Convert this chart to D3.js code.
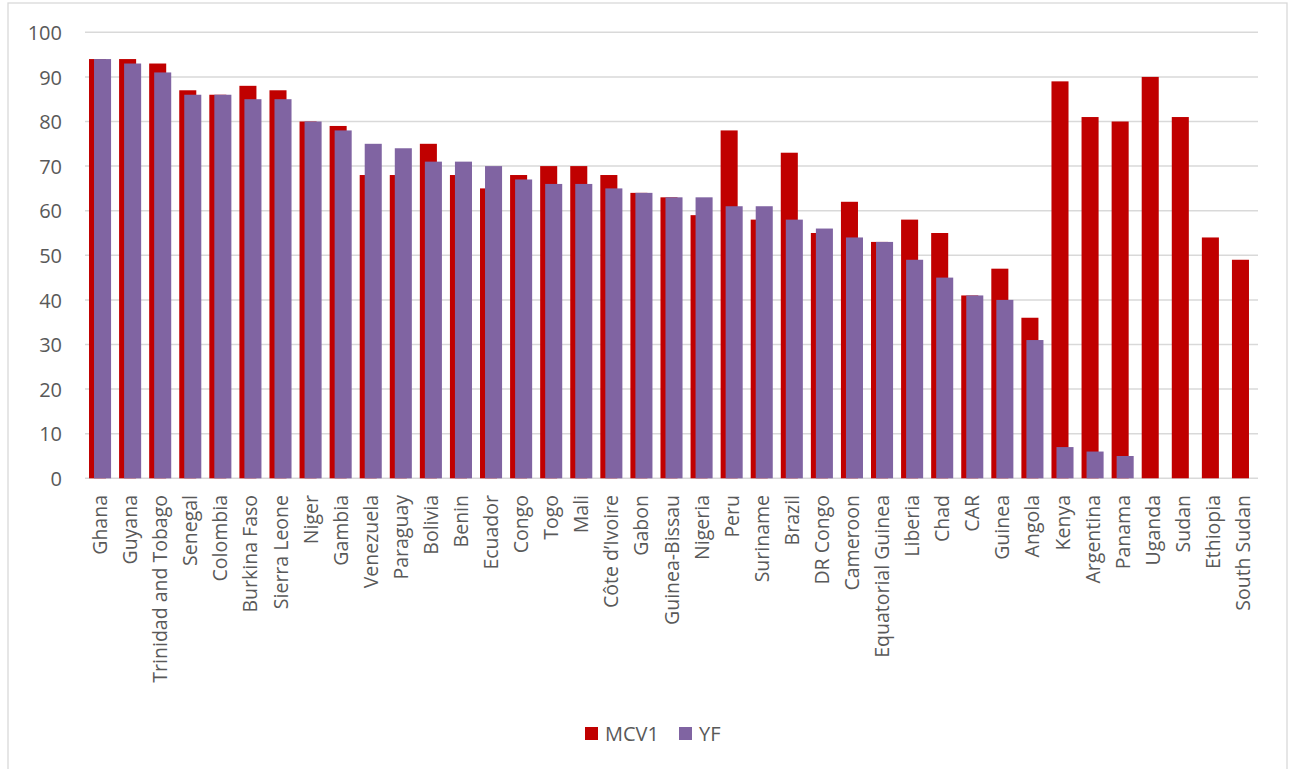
<!DOCTYPE html>
<html>
<head>
<meta charset="utf-8">
<script src="https://cdn.jsdelivr.net/npm/d3@7"></script>
<style>
  html, body { margin: 0; padding: 0; background: #fff; }
  svg { display: block; font-family: "Open Sans", "Noto Sans", sans-serif; }
</style>
</head>
<body>
<svg id="chart" width="1296" height="769"></svg>
<script>
const categories = ["Ghana","Guyana","Trinidad and Tobago","Senegal","Colombia","Burkina Faso","Sierra Leone","Niger","Gambia","Venezuela","Paraguay","Bolivia","Benin","Ecuador","Congo","Togo","Mali","Côte d’Ivoire","Gabon","Guinea-Bissau","Nigeria","Peru","Suriname","Brazil","DR Congo","Cameroon","Equatorial Guinea","Liberia","Chad","CAR","Guinea","Angola","Kenya","Argentina","Panama","Uganda","Sudan","Ethiopia","South Sudan"];
const mcv1 = [94,94,93,87,86,88,87,80,79,68,68,75,68,65,68,70,70,68,64,63,59,78,58,73,55,62,53,58,55,41,47,36,89,81,80,90,81,54,49];
const yf   = [94,93,91,86,86,85,85,80,78,75,74,71,71,70,67,66,66,65,64,63,63,61,61,58,56,54,53,49,45,41,40,31,7,6,5,null,null,null,null];
const yTicks = [0,10,20,30,40,50,60,70,80,90,100];
const seriesNames = ["MCV1","YF"];
const seriesColors = ["#C00000","#8064A2"];

const svg = d3.select("#chart");

// outer frame
svg.append("rect").attr("x",8).attr("y",3).attr("width",1279).attr("height",775)
  .attr("fill","none").attr("stroke","#d9d9d9").attr("stroke-width",1.3);

const x = d3.scaleBand().domain(categories).range([85,1258]).padding(0);
const y = d3.scaleLinear().domain([0,100]).range([478.3,32.3]);
const bw = x.bandwidth();

// gridlines
svg.append("g").selectAll("line").data(yTicks).join("line")
  .attr("x1",85).attr("x2",1258)
  .attr("y1",d=>y(d)).attr("y2",d=>y(d))
  .attr("stroke","#d9d9d9").attr("stroke-width",1.5);

// y axis labels
const yAxis = d3.axisLeft(y).tickValues(yTicks).tickSize(0).tickPadding(0);
const gy = svg.append("g").attr("transform","translate(62,0)").call(yAxis);
gy.select(".domain").remove();
gy.selectAll("text").attr("fill","#595959").style("font-size","20px")
  .style("font-family","'Open Sans', sans-serif").attr("dy","0.36em");

// bars
const data = categories.map((c,i)=>({c, m:mcv1[i], v:yf[i]}));
svg.append("g").selectAll("rect").data(data).join("rect")
  .attr("x",d=>x(d.c)+bw*4/30).attr("width",bw*17/30)
  .attr("y",d=>y(d.m)).attr("height",d=>y(0)-y(d.m))
  .attr("fill",seriesColors[0]);
svg.append("g").selectAll("rect").data(data.filter(d=>d.v!=null)).join("rect")
  .attr("x",d=>x(d.c)+bw*9/30).attr("width",bw*17/30)
  .attr("y",d=>y(d.v)).attr("height",d=>y(0)-y(d.v))
  .attr("fill",seriesColors[1]);

// x axis labels
const xAxis = d3.axisBottom(x).tickSize(0).tickPadding(0);
const gx = svg.append("g").attr("transform","translate(0,495)").call(xAxis);
gx.select(".domain").remove();
gx.selectAll("text")
  .attr("transform","rotate(-90)")
  .attr("x",0).attr("y",0).attr("dy","0.36em")
  .attr("text-anchor","end")
  .attr("fill","#595959").style("font-size","19.5px")
  .style("font-family","'Open Sans', sans-serif");

// legend
const legendX = [585, 679];
const lg = svg.append("g");
seriesNames.forEach((n,i)=>{
  lg.append("rect").attr("x",legendX[i]).attr("y",727).attr("width",13).attr("height",13).attr("fill",seriesColors[i]);
  lg.append("text").attr("x",legendX[i]+20).attr("y",741).text(n)
    .attr("fill","#595959").style("font-size","20px");
});
</script>
</body>
</html>
